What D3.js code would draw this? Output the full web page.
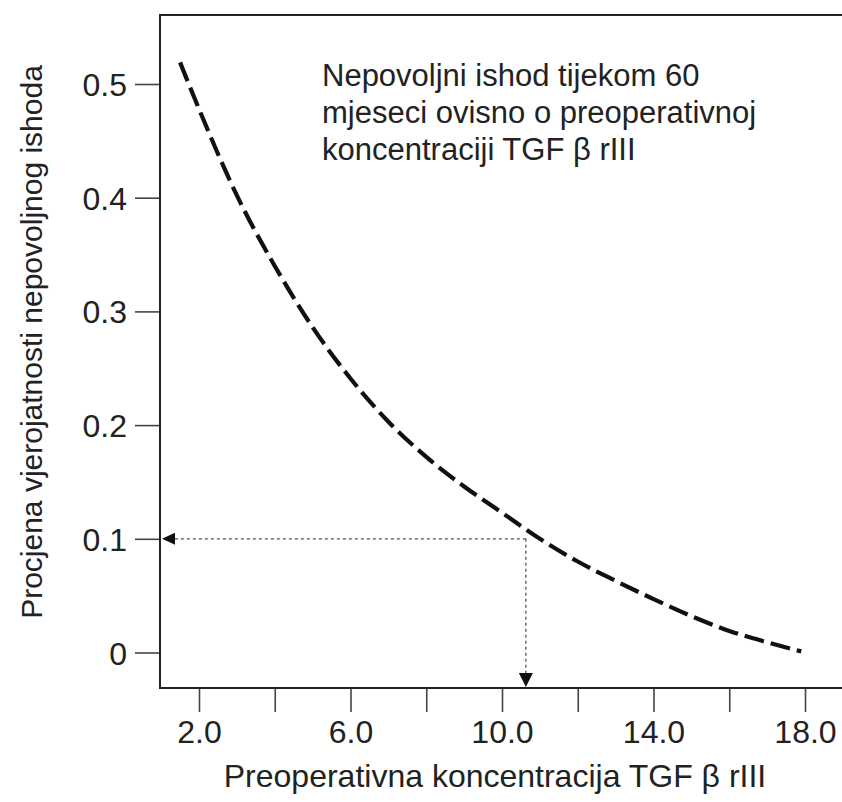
<!DOCTYPE html>
<html>
<head>
<meta charset="utf-8">
<script src="https://cdn.jsdelivr.net/npm/d3@7"></script>
<style>
  html, body { margin: 0; padding: 0; background: #fff; }
  svg { display: block; }
  text { font-family: "Liberation Sans", Arial, sans-serif; fill: #222; }
</style>
</head>
<body>
<svg id="chart" width="842" height="802"></svg>
<script>
// Data
const concentration = [1.5, 2, 3, 4, 5, 6, 7, 8, 9, 10, 11, 12, 13, 14, 15, 16, 17, 17.9];
const probability   = [0.519, 0.478, 0.402, 0.340, 0.286, 0.241, 0.203, 0.172, 0.146, 0.123, 0.100, 0.080, 0.063, 0.047, 0.032, 0.019, 0.009, 0.001];
const xTickValues = [2, 4, 6, 8, 10, 12, 14, 16, 18];
const xTickLabels = ["2.0", "", "6.0", "", "10.0", "", "14.0", "", "18.0"];
const yTickValues = [0, 0.1, 0.2, 0.3, 0.4, 0.5];
const yTickLabels = ["0", "0.1", "0.2", "0.3", "0.4", "0.5"];
const markerX = 10.63;
const markerY = 0.1;
const titleLines = ["Nepovoljni ishod tijekom 60", "mjeseci ovisno o preoperativnoj", "koncentraciji TGF β rIII"];
const xTitle = "Preoperativna koncentracija TGF β rIII";
const yTitle = "Procjena vjerojatnosti nepovoljnog ishoda";

(function () {
const svg = d3.select("#chart");
const pL = 160, pT = 15, pB = 688, pR = 842;

const x = d3.scaleLinear().domain([2, 18]).range([199, 805]);
const y = d3.scaleLinear().domain([0, 0.5]).range([652.5, 84]);

// frame top line
svg.append("line").attr("x1", pL).attr("x2", pR).attr("y1", pT).attr("y2", pT)
  .attr("stroke", "#222").attr("stroke-width", 2);

// axes
const xAxis = d3.axisBottom(x).tickValues(xTickValues)
  .tickFormat((d, i) => xTickLabels[i]).tickSize(24).tickSizeOuter(0);
const gx = svg.append("g").attr("transform", `translate(0,${pB})`).call(xAxis);
gx.select(".domain").remove();
gx.selectAll(".tick line").attr("stroke", "#444").attr("stroke-width", 1.6);
gx.selectAll(".tick text").attr("font-size", 32).attr("dy", 0).attr("y", 55)
  .style("font-family", "'Liberation Sans', Arial, sans-serif").attr("fill", "#222");
svg.append("line").attr("x1", pL).attr("x2", pR).attr("y1", pB).attr("y2", pB)
  .attr("stroke", "#222").attr("stroke-width", 2);

const yAxis = d3.axisLeft(y).tickValues(yTickValues)
  .tickFormat((d, i) => yTickLabels[i]).tickSize(25).tickSizeOuter(0);
const gy = svg.append("g").attr("transform", `translate(${pL},0)`).call(yAxis);
gy.select(".domain").remove();
gy.selectAll(".tick line").attr("stroke", "#444").attr("stroke-width", 1.6);
gy.selectAll(".tick text").attr("font-size", 32).attr("x", -33).attr("dy", "0.36em")
  .style("font-family", "'Liberation Sans', Arial, sans-serif").attr("fill", "#222");
svg.append("line").attr("x1", pL).attr("x2", pL).attr("y1", pT - 1).attr("y2", pB + 1)
  .attr("stroke", "#222").attr("stroke-width", 2);

// dotted guide lines with arrowheads
svg.append("line")
  .attr("x1", x(markerX)).attr("x2", pL + 10)
  .attr("y1", y(markerY)).attr("y2", y(markerY))
  .attr("stroke", "#555").attr("stroke-width", 1.3).attr("stroke-dasharray", "3,3");
svg.append("line")
  .attr("x1", x(markerX)).attr("x2", x(markerX))
  .attr("y1", y(markerY)).attr("y2", pB - 10)
  .attr("stroke", "#555").attr("stroke-width", 1.3).attr("stroke-dasharray", "3,3");
const ay = y(markerY);
svg.append("path")
  .attr("d", `M${pL + 2},${ay} L${pL + 15},${ay - 6} L${pL + 15},${ay + 6} Z`)
  .attr("fill", "#111");
const ax = x(markerX);
svg.append("path")
  .attr("d", `M${ax},${pB - 1} L${ax - 7},${pB - 15} L${ax + 7},${pB - 15} Z`)
  .attr("fill", "#111");

// curve
const pts = concentration.map((c, i) => [c, probability[i]]);
const line = d3.line().x(d => x(d[0])).y(d => y(d[1])).curve(d3.curveMonotoneX);
svg.append("path").datum(pts).attr("d", line)
  .attr("fill", "none").attr("stroke", "#111").attr("stroke-width", 4.2)
  .attr("stroke-dasharray", "20,7");

// annotation
const t = svg.append("text").attr("x", 322).attr("y", 86).attr("font-size", 31);
titleLines.forEach((s, i) => {
  t.append("tspan").attr("x", 322).attr("y", 86 + i * 37).text(s);
});

// axis titles
svg.append("text").attr("x", 495).attr("y", 787).attr("text-anchor", "middle")
  .attr("font-size", 32).text(xTitle);
svg.append("text").attr("transform", "translate(42,342) rotate(-90)")
  .attr("text-anchor", "middle").attr("font-size", 30).text(yTitle);
})();
</script>
</body>
</html>
